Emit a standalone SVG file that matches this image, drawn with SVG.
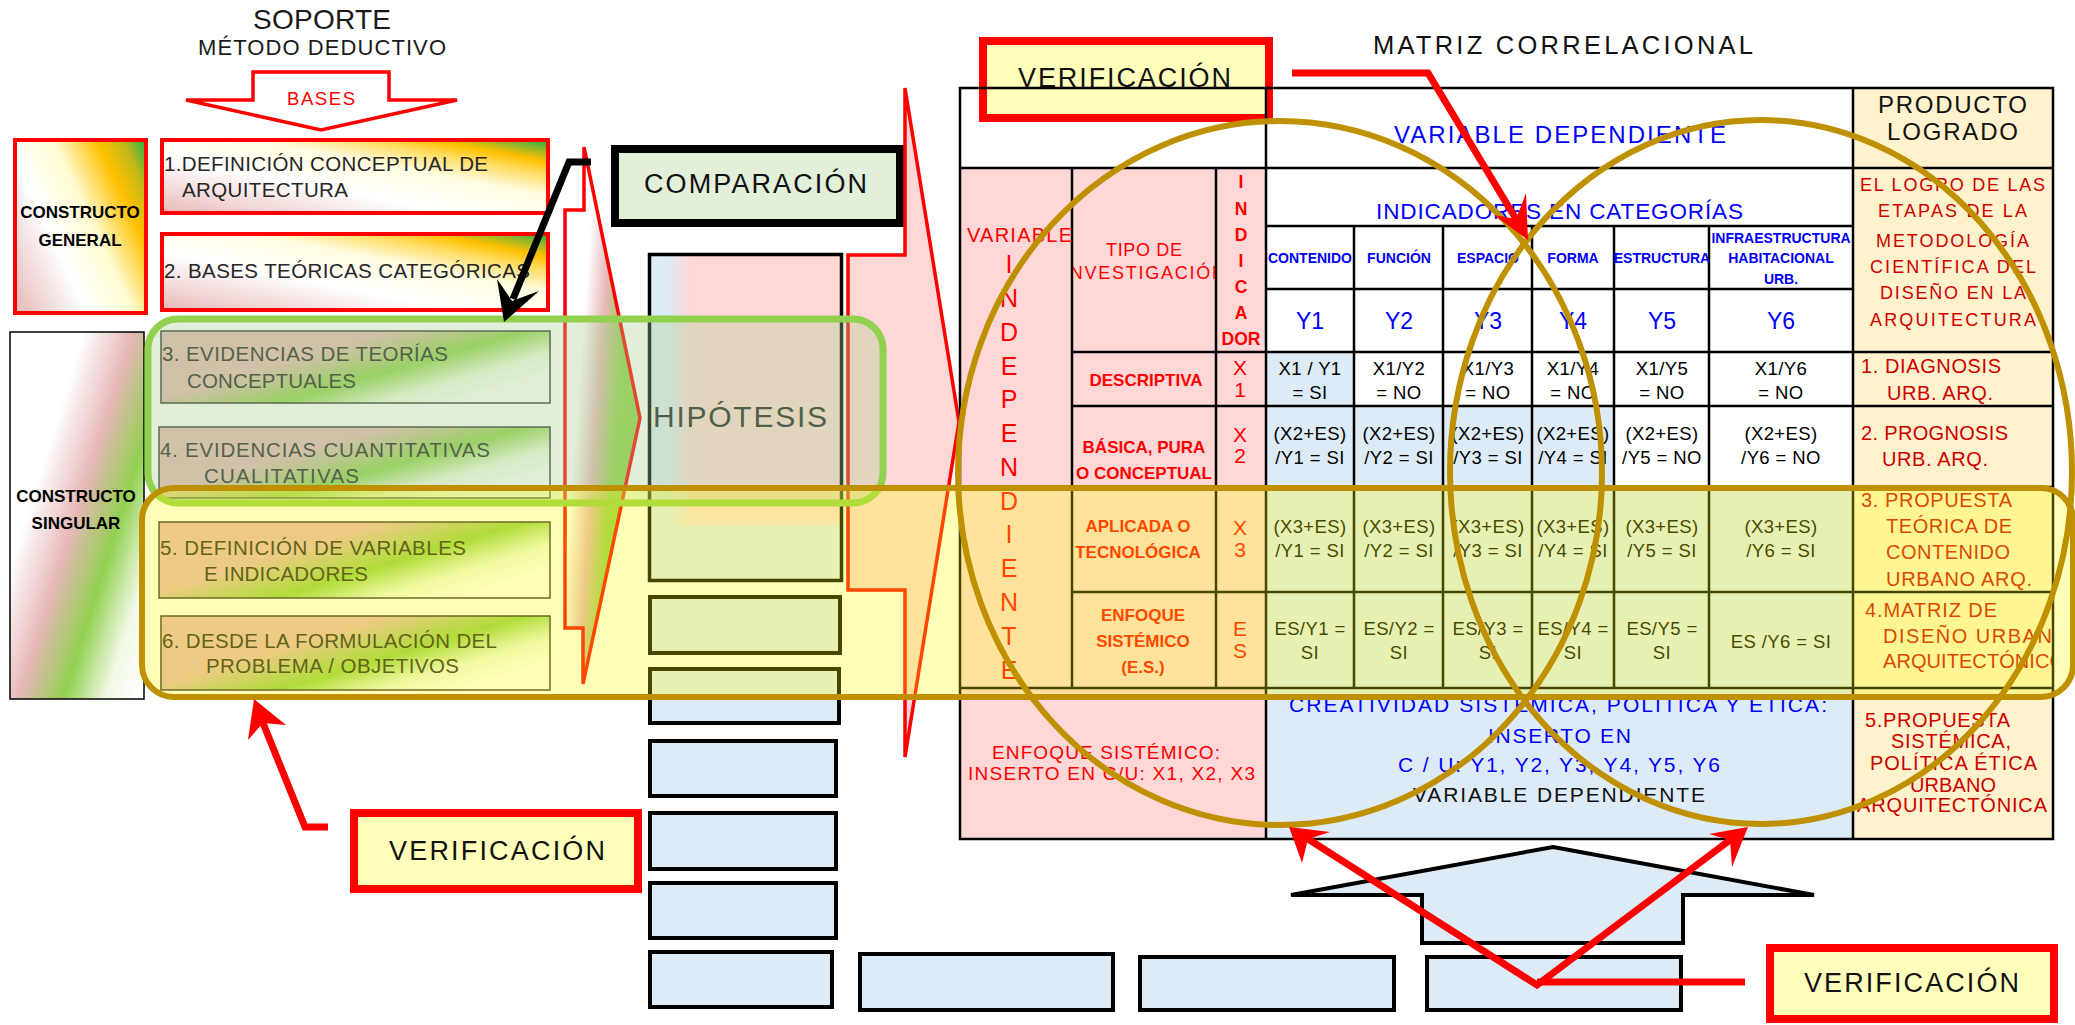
<svg xmlns="http://www.w3.org/2000/svg" width="2075" height="1025" viewBox="0 0 2075 1025">
<defs>
<style>
text{font-family:"Liberation Sans",Arial,sans-serif;}
.b{font-weight:bold;}
.blk{fill:#1a1a1a;}
.lbl{font-size:20.5px;fill:#262626;}
.verif{fill:#ffffbb;stroke:#ff0000;stroke-width:8;}
.vtxt{font-size:27px;fill:#111;}
.bbox{fill:#ddebf7;stroke:#000;stroke-width:4;}
.grid{stroke:#000;stroke-width:2.5;fill:none;}
.dat{font-size:18.5px;fill:#000;text-anchor:middle;letter-spacing:0.4px;}
.hdr{font-size:14px;font-weight:bold;fill:#0000ff;text-anchor:middle;}
.yl{font-size:23px;fill:#0000ff;text-anchor:middle;}
.xl{font-size:21px;fill:#ff0000;text-anchor:middle;}
.tip{font-size:17px;font-weight:bold;fill:#ff0000;text-anchor:middle;}
.prod{font-size:20px;fill:#cc0000;}
.logro{font-size:18px;fill:#d00000;}
.conn{fill:none;stroke:#ff0000;stroke-width:7;}
.head{fill:#ff0000;}
.gold{fill:none;stroke:#bf9000;stroke-width:6;}
.rowbox{fill:url(#gRow);stroke:#333;stroke-width:1.5;}
.topbox{fill:url(#gTop);stroke:#ff0000;stroke-width:4;}
</style>
<linearGradient id="gGen" gradientUnits="userSpaceOnUse" x1="13" y1="315" x2="192" y2="231">
<stop offset="0" stop-color="#e6b8b7"/><stop offset="0.08" stop-color="#ebc5c4"/><stop offset="0.35" stop-color="#ffffff"/><stop offset="0.56" stop-color="#fffbd0"/><stop offset="0.76" stop-color="#ffc000"/><stop offset="0.88" stop-color="#c0b818"/><stop offset="1" stop-color="#00b050"/>
</linearGradient>
<linearGradient id="gTop" x1="0" y1="1" x2="1" y2="0">
<stop offset="0" stop-color="#e6b8b7"/><stop offset="0.18" stop-color="#f3dada"/><stop offset="0.38" stop-color="#ffffff"/><stop offset="0.62" stop-color="#fffce0"/><stop offset="0.76" stop-color="#ffdc60"/><stop offset="0.85" stop-color="#ffc000"/><stop offset="0.94" stop-color="#80b430"/><stop offset="1" stop-color="#00b050"/>
</linearGradient>
<linearGradient id="gSing" gradientUnits="userSpaceOnUse" x1="9" y1="331" x2="236" y2="402">
<stop offset="0" stop-color="#ffffff"/><stop offset="0.3" stop-color="#ffffff"/><stop offset="0.5" stop-color="#e6b8b7"/><stop offset="0.68" stop-color="#92d050"/><stop offset="0.85" stop-color="#f2f9e6"/><stop offset="1" stop-color="#ffffff"/>
</linearGradient>
<linearGradient id="gRow" x1="0" y1="0" x2="1" y2="0.63">
<stop offset="0" stop-color="#e6b8b7"/><stop offset="0.42" stop-color="#e6b8b7"/><stop offset="0.67" stop-color="#92d050"/><stop offset="0.85" stop-color="#eef7e0"/><stop offset="1" stop-color="#ffffff"/>
</linearGradient>
<linearGradient id="gArrow1" gradientUnits="userSpaceOnUse" x1="565" y1="147" x2="659" y2="154">
<stop offset="0" stop-color="#ffffff"/><stop offset="0.33" stop-color="#ffffff"/><stop offset="0.55" stop-color="#e6b8b7"/><stop offset="0.76" stop-color="#92d050"/><stop offset="1" stop-color="#92d050"/>
</linearGradient>
<linearGradient id="gHipo" gradientUnits="userSpaceOnUse" x1="668" y1="0" x2="692" y2="0">
<stop offset="0" stop-color="#ffd7d7" stop-opacity="0"/><stop offset="1" stop-color="#ffd7d7" stop-opacity="1"/>
</linearGradient>
<linearGradient id="gHipoV" gradientUnits="userSpaceOnUse" x1="0" y1="505" x2="0" y2="548">
<stop offset="0" stop-color="#ddebf7" stop-opacity="0"/><stop offset="1" stop-color="#ddebf7" stop-opacity="1"/>
</linearGradient>
<clipPath id="clipTipo"><rect x="1073" y="168" width="142" height="184"/></clipPath>
<clipPath id="clipProd"><rect x="1853" y="592" width="199" height="96"/></clipPath>
</defs>

<rect x="0" y="0" width="2075" height="1025" fill="#ffffff"/>

<g id="titulo-soporte">
<text x="253" y="29" font-size="28" textLength="138" class="blk">SOPORTE</text>
<text x="198" y="55" font-size="22" textLength="248" class="blk">MÉTODO DEDUCTIVO</text>
</g>

<g id="bases">
<polygon points="253,72 389,72 389,100 457,100 321,130 186,100 253,100" fill="#ffffff" stroke="#ff0000" stroke-width="3.5"/>
<text x="287" y="105" font-size="18.5" textLength="68" fill="#ff0000">BASES</text>
</g>

<g id="constructo-general">
<rect x="15" y="140" width="131" height="173" fill="url(#gGen)" stroke="#ff0000" stroke-width="4"/>
<text x="80" y="218" font-size="17" class="b" text-anchor="middle" fill="#000">CONSTRUCTO</text>
<text x="80" y="246" font-size="17" class="b" text-anchor="middle" fill="#000">GENERAL</text>
</g>

<g id="box-1">
<rect x="162" y="140" width="386" height="73" class="topbox"/>
<text x="164" y="171" class="lbl" textLength="324">1.DEFINICIÓN CONCEPTUAL DE</text>
<text x="182" y="197" class="lbl" textLength="166">ARQUITECTURA</text>
</g>

<g id="box-2">
<rect x="162" y="234" width="386" height="76" class="topbox"/>
<text x="164" y="278" class="lbl" textLength="366">2. BASES TEÓRICAS CATEGÓRICAS</text>
</g>

<g id="constructo-singular">
<rect x="10" y="332" width="134" height="367" fill="url(#gSing)" stroke="#000" stroke-width="1.5"/>
<text x="76" y="502" font-size="17" class="b" text-anchor="middle" fill="#000">CONSTRUCTO</text>
<text x="76" y="529" font-size="17" class="b" text-anchor="middle" fill="#000">SINGULAR</text>
</g>

<g id="box-3">
<rect x="161" y="331" width="389" height="72" class="rowbox"/>
<text x="162" y="361" class="lbl" textLength="286">3. EVIDENCIAS DE TEORÍAS</text>
<text x="187" y="388" class="lbl" textLength="169">CONCEPTUALES</text>
</g>
<g id="box-4">
<rect x="159" y="427" width="391" height="71" class="rowbox"/>
<text x="160" y="457" class="lbl" textLength="330">4. EVIDENCIAS CUANTITATIVAS</text>
<text x="204" y="483" class="lbl" textLength="155">CUALITATIVAS</text>
</g>
<g id="box-5">
<rect x="159" y="522" width="391" height="76" class="rowbox"/>
<text x="160" y="555" class="lbl" textLength="306">5. DEFINICIÓN DE VARIABLES</text>
<text x="204" y="581" class="lbl" textLength="164">E INDICADORES</text>
</g>
<g id="box-6">
<rect x="161" y="616" width="389" height="74" class="rowbox"/>
<text x="162" y="648" class="lbl" textLength="335">6. DESDE LA FORMULACIÓN DEL</text>
<text x="206" y="673" class="lbl" textLength="253">PROBLEMA / OBJETIVOS</text>
</g>

<g id="flecha-bloque-1">
<polygon points="584,147 640,418 583,684 583,628 565,628 565,210 584,210" fill="url(#gArrow1)" stroke="#ff0000" stroke-width="3.5"/>
</g>

<g id="comparacion">
<rect x="615" y="149" width="285" height="74" fill="#e2efd9" stroke="#000" stroke-width="8"/>
<text x="644" y="193" font-size="27" textLength="223" fill="#111">COMPARACIÓN</text>
</g>

<g id="hipotesis">
<rect x="649.5" y="254.5" width="192" height="326" fill="#ddebf7"/>
<rect x="668" y="256" width="172" height="270" fill="url(#gHipo)"/>
<rect x="651" y="500" width="189" height="79" fill="url(#gHipoV)"/>
<rect x="649.5" y="254.5" width="192" height="326" fill="none" stroke="#000" stroke-width="3.5"/>
<text x="653" y="427" font-size="30" textLength="174" fill="#222">HIPÓTESIS</text>
</g>

<g id="casillas">
<rect x="650" y="597" width="190" height="56" class="bbox"/>
<rect x="650" y="669" width="189" height="54" class="bbox"/>
<rect x="650" y="741" width="186" height="55" class="bbox"/>
<rect x="650" y="813" width="186" height="56" class="bbox"/>
<rect x="650" y="883" width="186" height="55" class="bbox"/>
<rect x="650" y="952" width="182" height="55" class="bbox"/>
<rect x="860" y="954" width="253" height="56" class="bbox"/>
<rect x="1140" y="957" width="254" height="53" class="bbox"/>
<rect x="1427" y="957" width="254" height="53" class="bbox"/>
</g>

<g id="flecha-arriba">
<polygon points="1553,847 1814,895 1683,895 1683,943 1422,943 1422,895 1291,895" fill="#ddebf7" stroke="#000" stroke-width="4"/>
</g>

<g id="flecha-bloque-2">
<polygon points="905,88 959,422 905,757 905,590 848,590 848,255 905,255" fill="#ffd7d7" stroke="#ff0000" stroke-width="3.5"/>
</g>

<g id="matriz">
<text x="1373" y="54" font-size="25.5" textLength="380" fill="#111">MATRIZ CORRELACIONAL</text>
<rect x="960" y="88" width="1093" height="751" fill="#ffffff"/>
<rect x="1853" y="88" width="200" height="600" fill="#fff2cc"/>
<rect x="960" y="168" width="306" height="520" fill="#ffd7d7"/>
<rect x="1266" y="352" width="88" height="54" fill="#ddebf7"/>
<rect x="1266" y="406" width="348" height="81" fill="#ddebf7"/>
<rect x="1266" y="487" width="587" height="201" fill="#ddebf7"/>
<rect x="960" y="688" width="306" height="151" fill="#ffd7d7"/>
<rect x="1266" y="688" width="587" height="151" fill="#ddebf7"/>
<rect x="1853" y="688" width="200" height="151" fill="#fff2cc"/>
</g>

<g id="verificacion-arriba">
<rect x="983" y="41" width="286" height="77" class="verif"/>
<text x="1018" y="87" class="vtxt" textLength="213">VERIFICACIÓN</text>
</g>

<g id="matriz-contenido">
<rect x="960" y="88" width="1093" height="751" class="grid"/>
<path class="grid" d="M960,168H2053 M1266,226H1853 M1266,289H1853 M1072,352H2053 M1072,406H2053 M1072,487H2053 M1072,592H2053 M960,688H2053 M1072,168V688 M1216,168V688 M1266,88V839 M1354,226V688 M1443,226V688 M1532,226V688 M1614,226V688 M1709,226V688 M1853,88V839"/>

<text x="1394" y="143" font-size="24" textLength="332" fill="#0000ff">VARIABLE DEPENDIENTE</text>
<text x="1878" y="113" font-size="24" textLength="149" fill="#111">PRODUCTO</text>
<text x="1887" y="140" font-size="24" textLength="131" fill="#111">LOGRADO</text>
<text x="1376" y="219" font-size="22.5" textLength="367" fill="#0000ff">INDICADORES EN CATEGORÍAS</text>

<text class="hdr" x="1310" y="263">CONTENIDO</text>
<text class="hdr" x="1399" y="263">FUNCIÓN</text>
<text class="hdr" x="1488" y="263">ESPACIO</text>
<text class="hdr" x="1573" y="263">FORMA</text>
<text class="hdr" x="1662" y="263" font-size="13.5">ESTRUCTURA</text>
<text class="hdr" x="1781" y="243">INFRAESTRUCTURA</text>
<text class="hdr" x="1781" y="263">HABITACIONAL</text>
<text class="hdr" x="1781" y="284">URB.</text>

<text class="yl" x="1310" y="329">Y1</text>
<text class="yl" x="1399" y="329">Y2</text>
<text class="yl" x="1488" y="329">Y3</text>
<text class="yl" x="1573" y="329">Y4</text>
<text class="yl" x="1662" y="329">Y5</text>
<text class="yl" x="1781" y="329">Y6</text>

<text class="logro" x="1860" y="191" textLength="185">EL LOGRO DE LAS</text>
<text class="logro" x="1878" y="217" textLength="149">ETAPAS DE LA</text>
<text class="logro" x="1876" y="247" textLength="153">METODOLOGÍA</text>
<text class="logro" x="1870" y="273" textLength="166">CIENTÍFICA DEL</text>
<text class="logro" x="1880" y="299" textLength="146">DISEÑO EN LA</text>
<text class="logro" x="1870" y="326" textLength="166">ARQUITECTURA</text>

<text x="967" y="242" font-size="20" textLength="105" fill="#ff0000">VARIABLE</text>
<text font-size="25" fill="#ff0000" text-anchor="middle"><tspan x="1009" y="273">I</tspan><tspan x="1009" y="307">N</tspan><tspan x="1009" y="341">D</tspan><tspan x="1009" y="375">E</tspan><tspan x="1009" y="408">P</tspan><tspan x="1009" y="442">E</tspan><tspan x="1009" y="476">N</tspan><tspan x="1009" y="510">D</tspan><tspan x="1009" y="543">I</tspan><tspan x="1009" y="577">E</tspan><tspan x="1009" y="611">N</tspan><tspan x="1009" y="645">T</tspan><tspan x="1009" y="679">E</tspan></text>

<text x="1106" y="256" font-size="18" textLength="76" fill="#ff0000">TIPO DE</text>
<g clip-path="url(#clipTipo)"><text x="1063" y="279" font-size="18" textLength="162" fill="#ff0000">INVESTIGACIÓN</text></g>

<text font-size="17.5" class="b" fill="#ff0000" text-anchor="middle"><tspan x="1241" y="188">I</tspan><tspan x="1241" y="215">N</tspan><tspan x="1241" y="241">D</tspan><tspan x="1241" y="267">I</tspan><tspan x="1241" y="293">C</tspan><tspan x="1241" y="319">A</tspan><tspan x="1241" y="345">DOR</tspan></text>

<text class="tip" x="1146" y="386">DESCRIPTIVA</text>
<text class="tip" x="1144" y="453">BÁSICA, PURA</text>
<text class="tip" x="1144" y="479">O CONCEPTUAL</text>
<text class="tip" x="1138" y="532">APLICADA O</text>
<text class="tip" x="1138" y="558">TECNOLÓGICA</text>
<text class="tip" x="1143" y="621">ENFOQUE</text>
<text class="tip" x="1143" y="647">SISTÉMICO</text>
<text class="tip" x="1143" y="673">(E.S.)</text>

<text class="xl" x="1240" y="375">X</text><text class="xl" x="1240" y="397">1</text>
<text class="xl" x="1240" y="442">X</text><text class="xl" x="1240" y="463">2</text>
<text class="xl" x="1240" y="535">X</text><text class="xl" x="1240" y="557">3</text>
<text class="xl" x="1240" y="636">E</text><text class="xl" x="1240" y="658">S</text>

<text class="dat" x="1310" y="375">X1 / Y1</text><text class="dat" x="1310" y="399">= SI</text>
<text class="dat" x="1399" y="375">X1/Y2</text><text class="dat" x="1399" y="399">= NO</text>
<text class="dat" x="1488" y="375">X1/Y3</text><text class="dat" x="1488" y="399">= NO</text>
<text class="dat" x="1573" y="375">X1/Y4</text><text class="dat" x="1573" y="399">= NO</text>
<text class="dat" x="1662" y="375">X1/Y5</text><text class="dat" x="1662" y="399">= NO</text>
<text class="dat" x="1781" y="375">X1/Y6</text><text class="dat" x="1781" y="399">= NO</text>

<text class="dat" x="1310" y="440">(X2+ES)</text><text class="dat" x="1310" y="464">/Y1 = SI</text>
<text class="dat" x="1399" y="440">(X2+ES)</text><text class="dat" x="1399" y="464">/Y2 = SI</text>
<text class="dat" x="1488" y="440">(X2+ES)</text><text class="dat" x="1488" y="464">/Y3 = SI</text>
<text class="dat" x="1573" y="440">(X2+ES)</text><text class="dat" x="1573" y="464">/Y4 = SI</text>
<text class="dat" x="1662" y="440">(X2+ES)</text><text class="dat" x="1662" y="464">/Y5 = NO</text>
<text class="dat" x="1781" y="440">(X2+ES)</text><text class="dat" x="1781" y="464">/Y6 = NO</text>

<text class="dat" x="1310" y="533">(X3+ES)</text><text class="dat" x="1310" y="557">/Y1 = SI</text>
<text class="dat" x="1399" y="533">(X3+ES)</text><text class="dat" x="1399" y="557">/Y2 = SI</text>
<text class="dat" x="1488" y="533">(X3+ES)</text><text class="dat" x="1488" y="557">/Y3 = SI</text>
<text class="dat" x="1573" y="533">(X3+ES)</text><text class="dat" x="1573" y="557">/Y4 = SI</text>
<text class="dat" x="1662" y="533">(X3+ES)</text><text class="dat" x="1662" y="557">/Y5 = SI</text>
<text class="dat" x="1781" y="533">(X3+ES)</text><text class="dat" x="1781" y="557">/Y6 = SI</text>

<text class="dat" x="1310" y="635">ES/Y1 =</text><text class="dat" x="1310" y="659">SI</text>
<text class="dat" x="1399" y="635">ES/Y2 =</text><text class="dat" x="1399" y="659">SI</text>
<text class="dat" x="1488" y="635">ES/Y3 =</text><text class="dat" x="1488" y="659">SI</text>
<text class="dat" x="1573" y="635">ES/Y4 =</text><text class="dat" x="1573" y="659">SI</text>
<text class="dat" x="1662" y="635">ES/Y5 =</text><text class="dat" x="1662" y="659">SI</text>
<text class="dat" x="1781" y="648">ES /Y6 = SI</text>

<text class="prod" x="1861" y="373" textLength="140">1. DIAGNOSIS</text>
<text class="prod" x="1887" y="400" textLength="106">URB. ARQ.</text>
<text class="prod" x="1861" y="440" textLength="147">2. PROGNOSIS</text>
<text class="prod" x="1882" y="466" textLength="106">URB. ARQ.</text>
<text class="prod" x="1861" y="507" textLength="151">3. PROPUESTA</text>
<text class="prod" x="1886" y="533" textLength="126">TEÓRICA DE</text>
<text class="prod" x="1886" y="559" textLength="124">CONTENIDO</text>
<text class="prod" x="1886" y="586" textLength="146">URBANO ARQ.</text>
<text class="prod" x="1865" y="617" textLength="132">4.MATRIZ DE</text>
<g clip-path="url(#clipProd)">
<text class="prod" x="1883" y="643" textLength="186">DISEÑO URBANO</text>
<text class="prod" x="1883" y="668" textLength="182">ARQUITECTÓNICO</text>
</g>

<text x="992" y="759" font-size="19" textLength="228" fill="#ff0000">ENFOQUE SISTÉMICO:</text>
<text x="968" y="780" font-size="19" textLength="287" fill="#ff0000">INSERTO EN C/U: X1, X2, X3</text>

<text x="1289" y="712" font-size="21" textLength="538" fill="#0000ff">CREATIVIDAD SISTÉMICA, POLÍTICA Y ÉTICA:</text>
<text x="1488" y="743" font-size="21" textLength="143" fill="#0000ff">INSERTO EN</text>
<text x="1398" y="772" font-size="21" textLength="322" fill="#0000ff">C / U: Y1, Y2, Y3, Y4, Y5, Y6</text>
<text x="1413" y="802" font-size="21" textLength="292" fill="#111">VARIABLE DEPENDIENTE</text>

<text class="prod" x="1865" y="727" font-size="18.5" textLength="145">5.PROPUESTA</text>
<text class="prod" x="1891" y="748" font-size="18.5" textLength="120">SISTÉMICA,</text>
<text class="prod" x="1870" y="770" font-size="18.5" textLength="167">POLÍTICA ÉTICA</text>
<text class="prod" x="1910" y="792" font-size="18.5" textLength="86">URBANO</text>
<text class="prod" x="1857" y="812" font-size="18.5" textLength="190">ARQUITECTÓNICA</text>
</g>

<g id="grupo-verde">
<rect x="148" y="319" width="735" height="184" rx="30" fill="#a9d18e" fill-opacity="0.35" stroke="#92d050" stroke-width="7"/>
</g>

<g id="grupo-dorado">
<rect x="142" y="488" width="1931" height="209" rx="32" fill="#ffff00" fill-opacity="0.28" stroke="#bf9000" stroke-width="6"/>
</g>

<g id="circulos">
<ellipse cx="1280" cy="473" rx="322" ry="352" class="gold"/>
<ellipse cx="1761" cy="472" rx="311" ry="352" class="gold"/>
</g>

<g id="verificacion-izquierda">
<rect x="354" y="813" width="284" height="76" class="verif"/>
<text x="389" y="860" class="vtxt" textLength="216">VERIFICACIÓN</text>
</g>

<g id="verificacion-derecha">
<rect x="1770" y="948" width="284" height="71" class="verif"/>
<text x="1804" y="992" class="vtxt" textLength="215">VERIFICACIÓN</text>
</g>

<g id="conectores">
<path d="M591,162 L569,162 L513,299" fill="none" stroke="#000" stroke-width="7"/>
<polygon points="504,322 497,279 512,301 539,291" fill="#000"/>
<path class="conn" d="M1292,73 L1428,73 L1516,219"/>
<polygon class="head" points="1528,240 1494,215 1516,219 1526,193"/>
<path class="conn" d="M328,827 L305,827 L263,723"/>
<polygon class="head" points="254,699 248,740 263,723 286,725"/>
<path class="conn" d="M1745,982 L1537,982"/>
<path class="conn" stroke-linejoin="miter" d="M1308,839 L1537,985 L1730,840"/>
<polygon class="head" points="1289,827 1302,863 1308,839 1330,832"/>
<polygon class="head" points="1748,827 1709,834 1730,840 1732,867"/>
</g>
</svg>
